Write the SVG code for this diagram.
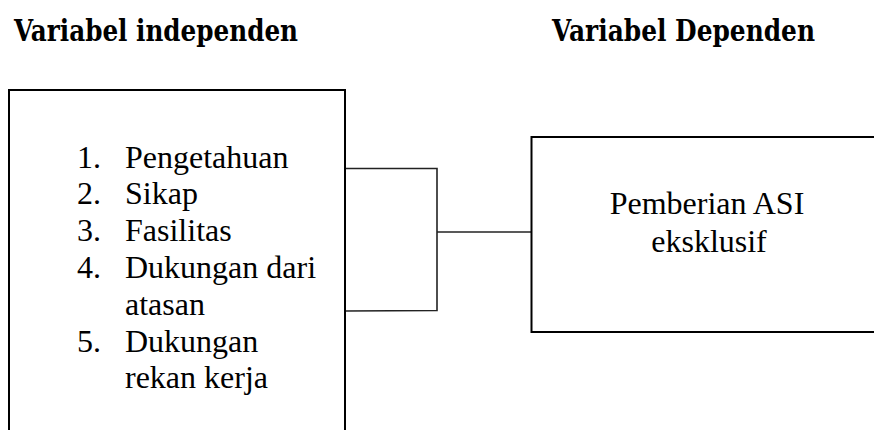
<svg xmlns="http://www.w3.org/2000/svg" width="874" height="430" viewBox="0 0 874 430">
<style>
.box{fill:#fff;stroke:#000;stroke-width:2}
.con{fill:none;stroke:#222;stroke-width:1.6}
text{font-family:'Liberation Serif','Times New Roman',serif;font-size:32px;fill:#000}
.h{font-family:'DejaVu Serif','Liberation Serif',serif;font-size:30px;font-weight:bold}
</style>
<rect width="874" height="430" fill="#fff"/>
<text class="h" x="14" y="40.5" textLength="284" lengthAdjust="spacingAndGlyphs">Variabel independen</text>
<text class="h" x="552" y="40.5" textLength="263" lengthAdjust="spacingAndGlyphs">Variabel Dependen</text>
<g id="connectors">
<polyline class="con" points="345,168.5 437,168.5 437,310.5 345,311"/>
<line class="con" x1="437" y1="232" x2="531.5" y2="232"/>
</g>
<g id="independent">
<rect class="box" x="9" y="90" width="336" height="360"/>
<text x="77" y="167.5">1.</text><text x="125" y="167.5">Pengetahuan</text>
<text x="77" y="204.3">2.</text><text x="125" y="204.3">Sikap</text>
<text x="77" y="241.1">3.</text><text x="125" y="241.1">Fasilitas</text>
<text x="77" y="277.9">4.</text><text x="125" y="277.9">Dukungan dari</text>
<text x="125" y="314.7">atasan</text>
<text x="77" y="351.5">5.</text><text x="125" y="351.5">Dukungan</text>
<text x="125" y="388.3">rekan kerja</text>
</g>
<g id="dependent">
<rect class="box" x="531.5" y="137" width="400" height="195"/>
<text x="707" y="214" text-anchor="middle">Pemberian ASI</text>
<text x="709" y="251.5" text-anchor="middle">eksklusif</text>
</g>
</svg>
